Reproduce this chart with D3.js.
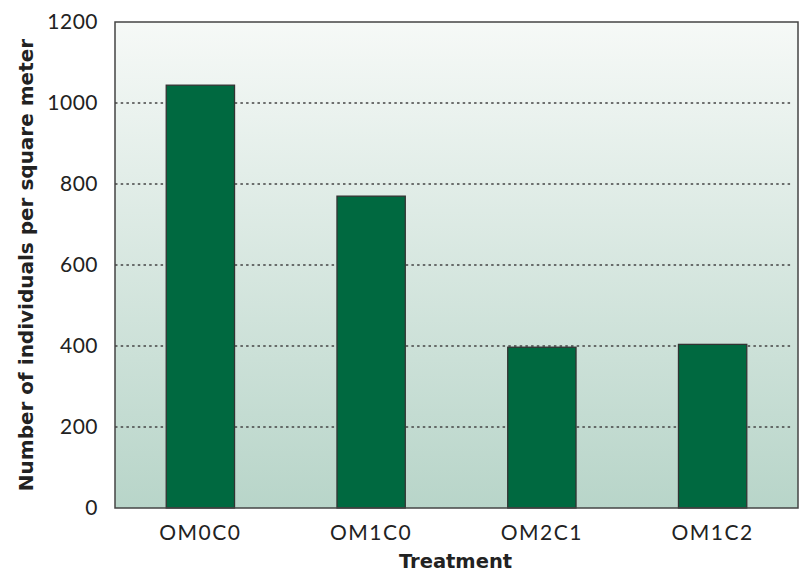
<!DOCTYPE html>
<html>
<head>
<meta charset="utf-8">
<script src="https://cdn.jsdelivr.net/npm/d3@7"></script>
<style>
  body { margin: 0; background: #fff; }
  text { font-family: Lato, "DejaVu Sans", sans-serif; }
</style>
</head>
<body>
<div id="chart"></div>
<script>
const treatments = ["OM0C0", "OM1C0", "OM2C1", "OM1C2"];
const individuals = [1044, 770, 397, 404];
const yTicks = [0, 200, 400, 600, 800, 1000, 1200];

const W = 804, H = 573;
const margin = { top: 22, right: 6, bottom: 65, left: 115 };
const width = W - margin.left - margin.right,
  height = H - margin.top - margin.bottom;

const svg = d3.select("#chart").append("svg")
  .attr("width", W).attr("height", H);

// background gradient
const grad = svg.append("defs").append("linearGradient")
  .attr("id", "bg").attr("x1", 0).attr("y1", 0).attr("x2", 0).attr("y2", 1);
grad.append("stop").attr("offset", "0%").attr("stop-color", "#f6f9f7");
grad.append("stop").attr("offset", "100%").attr("stop-color", "#b8d5c9");

const g = svg.append("g")
  .attr("transform", "translate(" + margin.left + "," + margin.top + ")");

g.append("rect")
  .attr("width", width).attr("height", height)
  .attr("fill", "url(#bg)");

const x = d3.scaleBand().domain(treatments).range([0, width])
  .paddingInner(0.6).paddingOuter(0.3);
const y = d3.scaleLinear().domain([0, 1200]).range([height, 0]);

// dotted grid lines
g.append("g")
  .selectAll("line")
  .data(yTicks.filter(d => d > 0 && d < 1200))
  .enter().append("line")
  .attr("x1", 0).attr("x2", width - 5)
  .attr("y1", d => y(d)).attr("y2", d => y(d))
  .attr("stroke", "#444").attr("stroke-width", 1.3)
  .attr("stroke-dasharray", "2.5,3.2");

// bars
g.selectAll(".bar")
  .data(individuals)
  .enter().append("rect")
  .attr("class", "bar")
  .attr("x", (d, i) => x(treatments[i]))
  .attr("y", d => y(d))
  .attr("width", x.bandwidth())
  .attr("height", d => height - y(d))
  .attr("fill", "#006940")
  .attr("stroke", "#333").attr("stroke-width", 1.3);

// frame
g.append("rect")
  .attr("width", width).attr("height", height)
  .attr("fill", "none").attr("stroke", "#444").attr("stroke-width", 1.5);

// y tick labels
g.append("g")
  .selectAll("text")
  .data(yTicks)
  .enter().append("text")
  .attr("x", -17).attr("y", d => y(d))
  .attr("dy", "0.35em")
  .attr("text-anchor", "end")
  .attr("font-size", 21)
  .attr("letter-spacing", 0.5)
  .attr("fill", "#222")
  .text(d => d);

// x tick labels
g.append("g")
  .selectAll("text")
  .data(treatments)
  .enter().append("text")
  .attr("x", d => x(d) + x.bandwidth() / 2)
  .attr("y", height + 32)
  .attr("text-anchor", "middle")
  .attr("font-size", 21)
  .attr("letter-spacing", 1.5)
  .attr("fill", "#222")
  .text(d => d);

// axis titles
svg.append("text")
  .attr("x", margin.left + width / 2 - 1).attr("y", 568)
  .attr("text-anchor", "middle")
  .style("font-family", "'DejaVu Sans', sans-serif")
  .attr("font-size", 19.5).attr("font-weight", "bold")
  .attr("fill", "#222")
  .text("Treatment");

svg.append("text")
  .attr("transform", "translate(33," + (margin.top + height / 2) + ") rotate(-90)")
  .attr("text-anchor", "middle")
  .style("font-family", "'DejaVu Sans', sans-serif")
  .attr("font-size", 20).attr("font-weight", "bold")
  .attr("fill", "#222")
  .text("Number of individuals per square meter");
</script>
</body>
</html>
